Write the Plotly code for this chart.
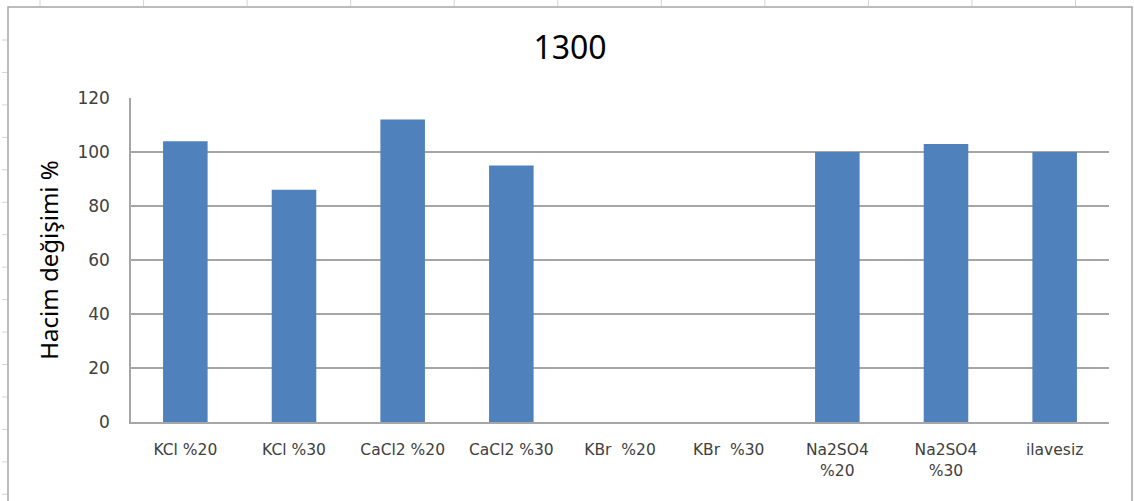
import plotly.graph_objects as go

# Volume change (%) per additive at 1300
categories = ["KCl %20", "KCl %30", "CaCl2 %20", "CaCl2 %30", "KBr  %20",
              "KBr  %30", "Na2SO4<br>%20", "Na2SO4<br>%30", "ilavesiz"]
values = [104, 86, 112, 95, 0, 0, 100, 103, 100]
y_ticks = [0, 20, 40, 60, 80, 100, 120]

W, H = 1134, 501
L, R, T, B = 131, 25, 98, 79
PW, PH = W - L - R, H - T - B


def px(x):
    return (x - L) / PW


def py(y):
    return 1 - (y - T) / PH


fig = go.Figure(go.Bar(
    x=categories, y=values,
    marker=dict(color="#4F81BD", line=dict(width=0)),
    width=0.41,
))

shapes = []
grey = "#A6A6A6"
# frame around the chart
shapes.append(dict(type="rect", xref="paper", yref="paper",
                   x0=px(8), x1=px(1132), y0=py(7), y1=py(520),
                   line=dict(color=grey, width=1.5), layer="below"))
# sheet column / row separators around the frame
for i in range(11):
    xc = 40 + 103.55 * i
    shapes.append(dict(type="line", xref="paper", yref="paper",
                       x0=px(xc), x1=px(xc), y0=py(0), y1=py(6),
                       line=dict(color="#D4D4D4", width=1)))
for i in range(15):
    yc = 40 + 32.45 * i
    shapes.append(dict(type="line", xref="paper", yref="paper",
                       x0=px(2), x1=px(7), y0=py(yc), y1=py(yc),
                       line=dict(color="#D4D4D4", width=1)))

fig.update_layout(
    width=W, height=H,
    margin=dict(l=L, r=R, t=T, b=B),
    paper_bgcolor="white", plot_bgcolor="white",
    showlegend=False,
    shapes=shapes,
    title=dict(text="1300", x=px(570), xref="paper", xanchor="center",
               y=1 - 48 / H, yref="container", yanchor="middle",
               font=dict(family="Noto Sans", size=32, color="black")),
    xaxis=dict(
        showline=True, linecolor=grey, linewidth=1.5,
        showgrid=False, ticks="",
        tickfont=dict(family="DejaVu Sans", size=15.5, color="#404040"),
        ticklabelstandoff=13,
        range=[-0.5, 8.5],
    ),
    yaxis=dict(
        range=[0, 120], tickvals=y_ticks,
        showline=True, linecolor=grey, linewidth=1.5,
        showgrid=True, gridcolor=grey, gridwidth=1.5,
        zeroline=False, ticks="",
        tickfont=dict(family="DejaVu Sans", size=17, color="#404040"),
        ticklabelstandoff=16,
        title=dict(text="Hacim değişimi %", standoff=12,
                   font=dict(family="Noto Sans", size=24, color="black")),
    ),
)

fig.write_html("out.html")
